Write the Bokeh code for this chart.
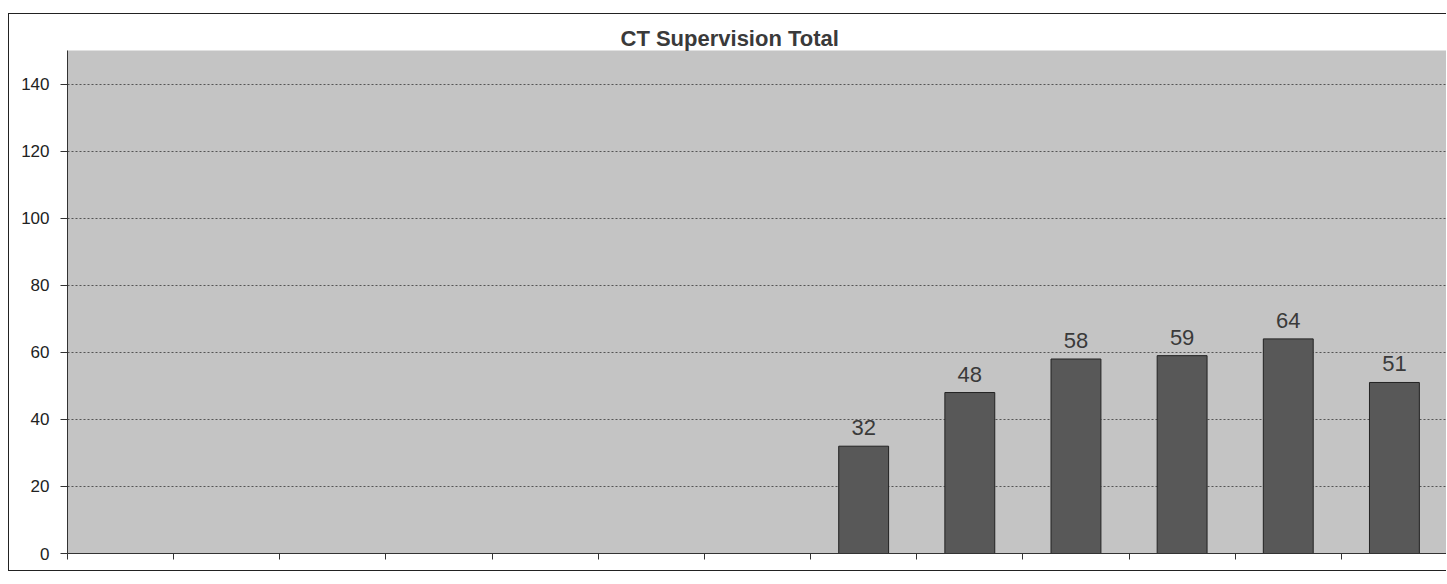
from bokeh.plotting import figure
from bokeh.models import ColumnDataSource, FixedTicker, Range1d, LabelSet
from bokeh.core.properties import value
from bokeh.embed import file_html
from bokeh.resources import INLINE

# ---- data ----
chart_title = "CT Supervision Total"
# 13 unlabeled periods on the category axis; the first seven have no bar
periods = ["", "", "", "", "", "", "", "", "", "", "", "", ""]
totals = [None, None, None, None, None, None, None, 32, 48, 58, 59, 64, 51]
y_ticks = [0, 20, 40, 60, 80, 100, 120, 140]

# ---- build source from the data ----
xs, tops, texts = [], [], []
for i, v in enumerate(totals):
    if v is not None:
        xs.append(i + 0.5)
        tops.append(v)
        texts.append(str(v))
src = ColumnDataSource(dict(x=xs, top=tops, label=texts))

FONT = "Liberation Sans"

p = figure(
    width=1438, height=558,
    x_range=Range1d(0, len(periods)), y_range=Range1d(0, 150),
    output_backend="svg", toolbar_location=None,
    min_border_left=58, min_border_right=0, min_border_top=36, min_border_bottom=19,
    background_fill_color="#c4c4c4", border_fill_color="white",
    styles={"border": "1px solid #222", "border-right": "none",
            "position": "relative", "top": "13px", "left": "8px"},
)
p.title.text = chart_title
p.title.align = "left"
p.title.offset = 553
p.title.text_font = FONT
p.title.text_font_size = "22px"
p.title.text_font_style = "bold"
p.title.text_color = "#3a3a3a"
p.title.standoff = 0

p.outline_line_color = None

p.vbar(x="x", top="top", width=0.47, source=src,
       fill_color="#585858", line_color="#222222", line_width=1)

labels = LabelSet(x="x", y="top", text="label", source=src,
                  text_align="center", text_baseline="bottom", y_offset=11,
                  text_font=value(FONT), text_font_size="22px", text_color="#3a3a3a")
p.add_layout(labels)

# y axis
p.yaxis.ticker = FixedTicker(ticks=y_ticks)
p.yaxis.major_label_text_font = FONT
p.yaxis.major_label_text_font_size = "17px"
p.yaxis.major_label_text_color = "#222"
p.yaxis.major_tick_out = 7
p.yaxis.major_tick_in = 0
p.yaxis.minor_tick_out = 0
p.yaxis.minor_tick_in = 0
p.yaxis.axis_line_color = "#333"
p.yaxis.major_tick_line_color = "#333"
p.yaxis.major_label_standoff = 11

# x axis: tick marks between the (unlabeled) categories, drawn as minor ticks
p.xaxis.ticker = FixedTicker(ticks=[], minor_ticks=list(range(len(periods) + 1)))
p.xaxis.minor_tick_out = 6
p.xaxis.minor_tick_in = 0
p.xaxis.major_tick_out = 0
p.xaxis.minor_tick_line_color = "#333"
p.xaxis.axis_line_color = "#333"

p.xgrid.grid_line_color = None
p.ygrid.ticker = FixedTicker(ticks=y_ticks[1:])
p.ygrid.grid_line_color = "#555555"
p.ygrid.grid_line_dash = "2 2"
p.ygrid.grid_line_width = 1

open("out.html", "w").write(file_html(p, INLINE))
